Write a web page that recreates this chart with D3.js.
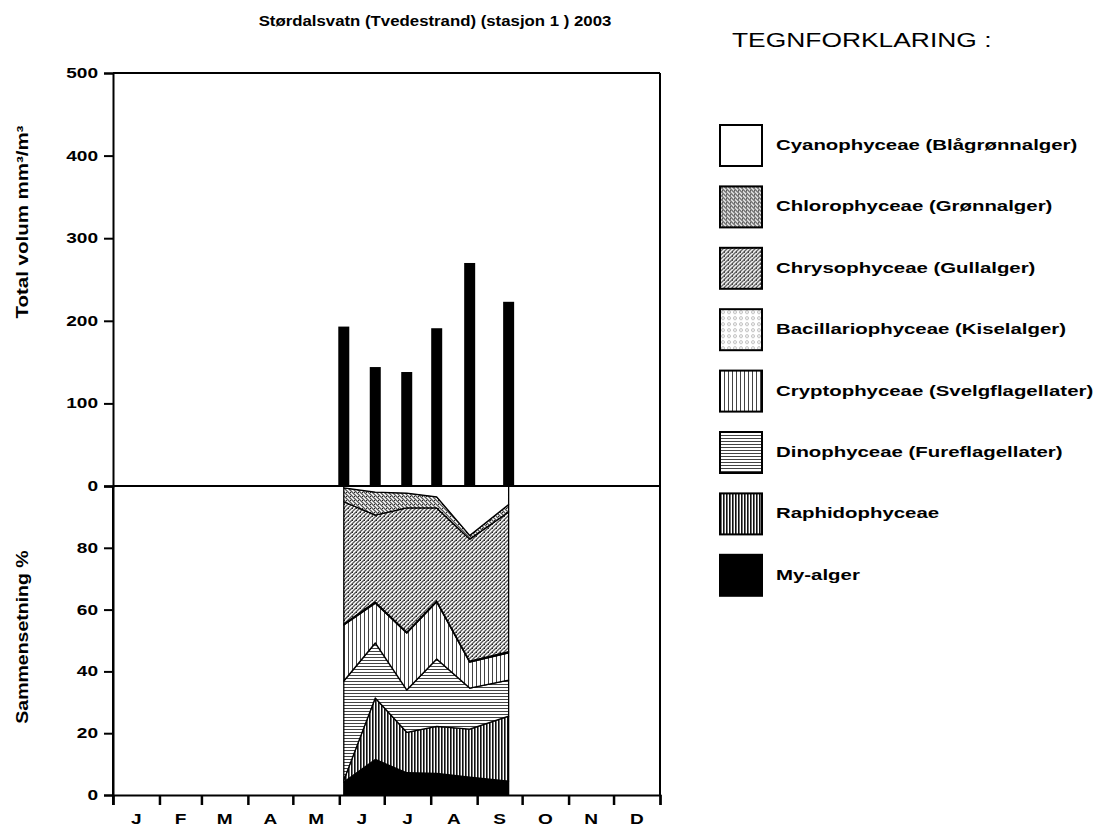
<!DOCTYPE html>
<html>
<head>
<meta charset="utf-8">
<script src="https://cdn.jsdelivr.net/npm/d3@7/dist/d3.min.js"></script>
<style>
  body { margin: 0; background: #fff; }
  text { font-family: "Liberation Sans", Arial, sans-serif; }
</style>
</head>
<body>
<svg id="mainsvg" width="1096" height="829"></svg>
<script>
// data
const dates = ['2003-06-04', '2003-06-25', '2003-07-16', '2003-08-05', '2003-08-27', '2003-09-22'];
const totalVolume = [193, 144, 138, 191, 270, 223];
const monthLabels = ['J', 'F', 'M', 'A', 'M', 'J', 'J', 'A', 'S', 'O', 'N', 'D'];
const volTicks = [0, 100, 200, 300, 400, 500];
const pctTicks = [0, 20, 40, 60, 80];

// percent per group (bottom to top of the stack)
const myAlger     = [4.2, 11.5, 7.2, 7.0, 5.8, 4.5];
const raphido     = [0.6, 19.9, 13.1, 15.2, 15.5, 21.0];
const dino        = [32.1, 17.8, 13.7, 21.8, 13.3, 11.7];
const crypto      = [18.1, 12.9, 18.4, 18.5, 8.4, 8.8];
const bacillario  = [0.3, 0.4, 0.3, 0.3, 0.3, 0.4];
const chryso      = [39.6, 28.1, 40.2, 30.1, 39.5, 45.2];
const chloro      = [4.5, 7.4, 4.8, 3.6, 1.2, 2.4];
const cyano       = [0.6, 2.0, 2.3, 3.5, 16.0, 6.0];

const groups = [
  {key: 'cyano', name: 'Cyanophyceae (Blågrønnalger)', values: cyano},
  {key: 'chloro', name: 'Chlorophyceae (Grønnalger)', values: chloro},
  {key: 'chryso', name: 'Chrysophyceae (Gullalger)', values: chryso},
  {key: 'bacil', name: 'Bacillariophyceae (Kiselalger)', values: bacillario},
  {key: 'crypto', name: 'Cryptophyceae (Svelgflagellater)', values: crypto},
  {key: 'dino', name: 'Dinophyceae (Fureflagellater)', values: dino},
  {key: 'raphido', name: 'Raphidophyceae', values: raphido},
  {key: 'my', name: 'My-alger', values: myAlger}
];

const svg = d3.select('#mainsvg');
const parse = d3.timeParse('%Y-%m-%d');
const SX = 1.36; // the original text is drawn a bit wide

// patterns
const defs = svg.append('defs');
function pat(id, w, h) {
  return defs.append('pattern').attr('id', id).attr('patternUnits', 'userSpaceOnUse')
    .attr('width', w).attr('height', h);
}
let p;
p = pat('p-chloro', 4, 4);
p.append('rect').attr('width', 4).attr('height', 4).attr('fill', '#fff');
p.append('path').attr('d', 'M0,0 L4,4 M-1,3 L1,5 M3,-1 L5,1').attr('stroke', '#555').attr('stroke-width', 1.3);
p.append('rect').attr('x', 2).attr('y', 0).attr('width', 1).attr('height', 1).attr('fill', '#222');
p = pat('p-chryso', 4, 4);
p.append('rect').attr('width', 4).attr('height', 4).attr('fill', '#fff');
p.append('path').attr('d', 'M0,4 L4,0 M-1,1 L1,-1 M3,5 L5,3').attr('stroke', '#555').attr('stroke-width', 1.3);
p.append('rect').attr('x', 0).attr('y', 0).attr('width', 1).attr('height', 1).attr('fill', '#222');
p = pat('p-bacil', 6, 6);
p.append('rect').attr('width', 6).attr('height', 6).attr('fill', '#fff');
p.append('circle').attr('cx', 3).attr('cy', 3).attr('r', 1.5).attr('fill', 'none').attr('stroke', '#aaa').attr('stroke-width', 0.8);
p = pat('p-crypto', 4, 4);
p.append('rect').attr('width', 4).attr('height', 4).attr('fill', '#fff');
p.append('rect').attr('x', 0).attr('width', 1).attr('height', 4).attr('fill', '#444');
p = pat('p-dino', 3, 3);
p.append('rect').attr('width', 3).attr('height', 3).attr('fill', '#fff');
p.append('rect').attr('y', 0).attr('width', 3).attr('height', 1).attr('fill', '#444');
p = pat('p-raphido', 3, 3);
p.append('rect').attr('width', 3).attr('height', 3).attr('fill', '#fff');
p.append('rect').attr('x', 0).attr('width', 1.6).attr('height', 3).attr('fill', '#111');

const fills = {cyano: '#fff', chloro: 'url(#p-chloro)', chryso: 'url(#p-chryso)', bacil: 'url(#p-bacil)',
  crypto: 'url(#p-crypto)', dino: 'url(#p-dino)', raphido: 'url(#p-raphido)', my: '#000'};

// scales
const x = d3.scaleTime().domain([new Date(2003, 0, 1), new Date(2004, 0, 1)]).range([113, 660]);
const yTop = d3.scaleLinear().domain([0, 500]).range([486, 73]);
const yBot = d3.scaleLinear().domain([0, 100]).range([795, 486]);

// title
svg.append('text').attr('transform', 'translate(435,26) scale(1.2,1)').attr('text-anchor', 'middle')
  .style('font-size', '14px').style('font-weight', 'bold')
  .text('Størdalsvatn (Tvedestrand) (stasjon 1 ) 2003');

// stacked percent areas
const rows = dates.map((d, i) => {
  const r = {date: parse(d)};
  groups.forEach(g => r[g.key] = g.values[i]);
  return r;
});
const stackKeys = groups.map(g => g.key).reverse();
const series = d3.stack().keys(stackKeys)(rows);
const area = d3.area().x(d => x(d.data.date)).y0(d => yBot(d[0])).y1(d => yBot(d[1]));
svg.append('g').selectAll('path').data(series).join('path')
  .attr('d', area)
  .attr('fill', d => fills[d.key])
  .attr('stroke', '#000').attr('stroke-width', 1.3).attr('stroke-linejoin', 'round');

// bars
svg.append('g').selectAll('rect').data(totalVolume).join('rect')
  .attr('x', (d, i) => x(parse(dates[i])) - 5.5)
  .attr('width', 11)
  .attr('y', d => yTop(d))
  .attr('height', d => yTop(0) - yTop(d))
  .attr('fill', '#000');

// frame
const frame = svg.append('g').attr('stroke', '#000').attr('stroke-width', 2).attr('fill', 'none');
frame.append('line').attr('x1', 113).attr('x2', 660).attr('y1', 73).attr('y2', 73);
frame.append('line').attr('x1', 660).attr('x2', 660).attr('y1', 73).attr('y2', 795);
frame.append('line').attr('x1', 113).attr('x2', 660).attr('y1', 486).attr('y2', 486);

// y axes
const axTop = svg.append('g').attr('transform', 'translate(113,0)')
  .call(d3.axisLeft(yTop).tickValues(volTicks).tickSize(9).tickPadding(6));
const axBot = svg.append('g').attr('transform', 'translate(113,0)')
  .call(d3.axisLeft(yBot).tickValues(pctTicks).tickSize(9).tickPadding(6));
[axTop, axBot].forEach(a => {
  a.select('.domain').attr('stroke-width', 2);
  a.selectAll('.tick line').attr('stroke-width', 2);
  a.selectAll('.tick text').style('font-size', '14px').style('font-weight', 'bold')
    .style('font-family', '"Liberation Sans", Arial, sans-serif').attr('fill', '#000')
    .attr('x', -15 / SX).attr('transform', `scale(${SX},1)`);
});
svg.append('line').attr('x1', 113).attr('x2', 113).attr('y1', 486).attr('y2', 805)
  .attr('stroke', '#000').attr('stroke-width', 2);

// x axis
const axX = svg.append('g').attr('transform', 'translate(0,795)')
  .call(d3.axisBottom(x).ticks(d3.timeMonth.every(1)).tickSize(10).tickFormat(''));
axX.select('.domain').attr('stroke-width', 2);
axX.selectAll('.tick line').attr('stroke-width', 2.5);
const months = d3.timeMonth.range(new Date(2003, 0, 1), new Date(2004, 0, 1));
svg.append('g').selectAll('text').data(months).join('text')
  .attr('transform', d => `translate(${(x(d) + x(d3.timeMonth.offset(d, 1))) / 2},824) scale(${SX},1)`)
  .attr('text-anchor', 'middle')
  .style('font-size', '14px').style('font-weight', 'bold')
  .text((d, i) => monthLabels[i]);

// y titles
svg.append('text').attr('transform', 'translate(28,222) rotate(-90) scale(1.28,1)').attr('text-anchor', 'middle')
  .style('font-size', '16px').style('font-weight', 'bold').text('Total volum mm³/m³');
svg.append('text').attr('transform', 'translate(28,637) rotate(-90) scale(1.22,1)').attr('text-anchor', 'middle')
  .style('font-size', '16px').style('font-weight', 'bold').text('Sammensetning %');

// legend
svg.append('text').attr('transform', 'translate(732,47) scale(1.32,1)').style('font-size', '20px').text('TEGNFORKLARING :');
const leg = svg.append('g').selectAll('g').data(groups).join('g')
  .attr('transform', (d, i) => `translate(720,${125 + i * 61.4})`);
leg.append('rect').attr('width', 42).attr('height', 41)
  .attr('fill', d => fills[d.key]).attr('stroke', '#000').attr('stroke-width', 2);
leg.append('text').attr('transform', `translate(56,25) scale(${SX},1)`)
  .style('font-size', '15px').style('font-weight', 'bold').text(d => d.name);
</script>
</body>
</html>
